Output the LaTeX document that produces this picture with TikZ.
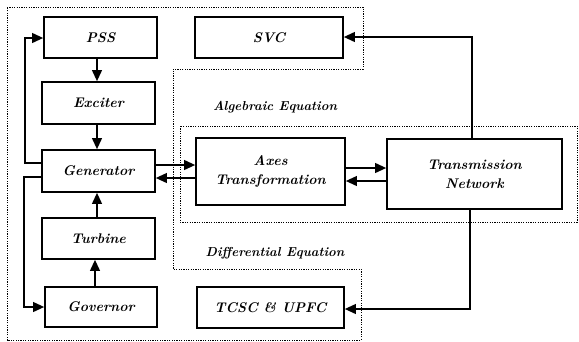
\documentclass[tikz,border=0pt]{standalone}
\usetikzlibrary{arrows.meta,calc}
\begin{document}
\begin{tikzpicture}[x=1pt,y=-1pt,
  blk/.style={draw,line width=1.8pt,minimum width=#1,inner sep=0pt,font=\fontsize{14}{16}\selectfont\bfseries\itshape,align=center},
  arr/.style={line width=1.1pt,-{Triangle[length=11pt,width=10pt]}},
  dots/.style={line width=0.8pt,dash pattern=on 1.2pt off 1.2pt},
  lbl/.style={font=\fontsize{13}{15}\selectfont\bfseries\itshape}]
\useasboundingbox (0,0) rectangle (579,341);
% dotted regions
\draw[dots] (7,7) -- (363,7) -- (363,69) -- (173,69) -- (173,269) -- (361,269) -- (361,340) -- (7,340) -- cycle;
\draw[dots] (180,126) rectangle (577,222);
% blocks
\node[blk=113pt,minimum height=41pt] (pss) at (100.5,37.5) {PSS};
\node[blk=113pt,minimum height=42pt] (exc) at (98.5,103) {Exciter};
\node[blk=113pt,minimum height=42pt] (gen) at (98.5,171) {Generator};
\node[blk=113pt,minimum height=41pt] (tur) at (98.5,238.5) {Turbine};
\node[blk=112pt,minimum height=40pt] (gov) at (101,307) {Governor};
\node[blk=148pt,minimum height=41pt] (svc) at (269,37.5) {SVC};
\node[blk=149pt,minimum height=67pt] (axe) at (270.5,171.5) {Axes\\[3pt]Transformation};
\node[blk=175pt,minimum height=70pt] (trn) at (474.5,174) {Transmission\\[3pt]Network};
\node[blk=147pt,minimum height=41pt] (tcs) at (270.5,307.5) {TCSC \& UPFC};
% labels
\node[lbl] (alg) at (275,107) {Algebraic Equation};
\node[lbl] (dif) at (275,253) {Differential Equation};
% vertical chain
\draw[arr] (pss.south -| 97,0) -- (exc.north -| 97,0);
\draw[arr] (exc.south -| 97,0) -- (gen.north -| 97,0);
\draw[arr] (tur.north -| 97,0) -- (gen.south -| 97,0);
\draw[arr] (gov.north -| 95,0) -- (tur.south -| 95,0);
% feedback lines
\draw[arr] (gen.west |- 0,163) -- (25,163) -- (25,38) -- (pss.west |- 0,38);
\draw[arr] (gen.west |- 0,177) -- (24,177) -- (24,307) -- (gov.west |- 0,307);
% generator <-> axes
\draw[arr] (gen.east |- 0,165) -- (axe.west |- 0,165);
\draw[arr] (axe.west |- 0,178) -- (gen.east |- 0,178);
% axes <-> transmission
\draw[arr] (axe.east |- 0,168) -- (trn.west |- 0,168);
\draw[arr] (trn.west |- 0,181) -- (axe.east |- 0,181);
% transmission to SVC / TCSC
\draw[arr] (trn.north -| 472,0) -- (472,37) -- (svc.east |- 0,37);
\draw[arr] (trn.south -| 470,0) -- (470,309) -- (tcs.east |- 0,309);
\end{tikzpicture}
\end{document}
